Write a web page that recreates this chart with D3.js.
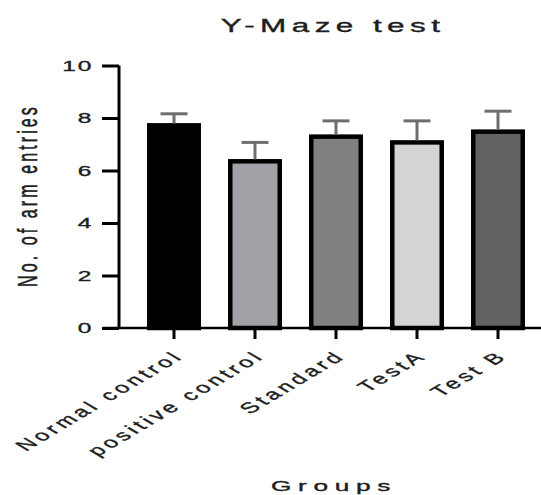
<!DOCTYPE html>
<html>
<head>
<meta charset="utf-8">
<script src="https://cdn.jsdelivr.net/npm/d3@7"></script>
<style>
body{margin:0;background:#fff;}
text{font-family:"Liberation Sans",Arial,sans-serif;fill:#1e1e1e;stroke:#1e1e1e;stroke-width:0.35px;}
</style>
</head>
<body>
<div id="chart"></div>
<script>
var groups=["Normal control","positive control","Standard","TestA","Test B"];
var means=[7.72,6.35,7.29,7.07,7.48];
var upper=[8.16,7.07,7.89,7.89,8.26];
var fills=["#000000","#a1a1a7","#808080","#d4d4d4","#626262"];
var yticks=[0,2,4,6,8,10];

var wide=541,high=495;
var sx=1.75; // the picture is stretched sideways, text too
var svg=d3.select("#chart").append("svg")
  .attr("width",wide).attr("height",high);

var x=d3.scaleBand()
  .domain(groups)
  .range([133.5,538.5])
  .paddingInner(0.34)
  .paddingOuter(0.17);
var y=d3.scaleLinear().domain([0,10]).range([328,65.5]);

// bars
svg.selectAll("rect.bar").data(groups).enter()
  .append("rect")
  .attr("class","bar")
  .attr("x",function(d){return x(d)+2;})
  .attr("width",x.bandwidth()-4)
  .attr("y",function(d,i){return y(means[i]);})
  .attr("height",function(d,i){return y(0)-y(means[i]);})
  .style("fill",function(d,i){return fills[i];})
  .style("stroke","#000")
  .style("stroke-width",4.5);

// error bars (upper only)
var err=svg.append("g").attr("class","err");
groups.forEach(function(g,i){
  var cx=x(g)+x.bandwidth()/2;
  err.append("line")
    .attr("x1",cx).attr("x2",cx)
    .attr("y1",y(means[i])-2).attr("y2",y(upper[i]))
    .style("stroke","#6e6e6e").style("stroke-width",3);
  err.append("line")
    .attr("x1",cx-13.5).attr("x2",cx+13.5)
    .attr("y1",y(upper[i])).attr("y2",y(upper[i]))
    .style("stroke","#6e6e6e").style("stroke-width",3);
});

// y axis
var yaxis=d3.axisLeft(y).tickValues(yticks).tickSize(17).tickFormat("");
var yg=svg.append("g").attr("transform","translate(119,0)").call(yaxis);
yg.select(".domain").attr("d","M0,"+y(10)+"V"+y(0)).style("stroke","#000").style("stroke-width",3);
yg.selectAll(".tick line").style("stroke","#000").style("stroke-width",3);
yticks.forEach(function(t){
  svg.append("text")
    .attr("transform","translate(93,"+(y(t)+5)+") scale("+sx+",1)")
    .attr("text-anchor","end")
    .style("font-size","14px")
    .style("letter-spacing","1px")
    .text(t);
});

// x axis
var xaxis=d3.axisBottom(x).tickSize(11).tickFormat("");
var xg=svg.append("g").attr("transform","translate(0,"+y(0)+")").call(xaxis);
xg.select(".domain").attr("d","M103,0H541").style("stroke","#000").style("stroke-width",2.5);
xg.selectAll(".tick line").style("stroke","#000").style("stroke-width",3);
groups.forEach(function(g){
  var cx=x(g)+x.bandwidth()/2;
  svg.append("text")
    .attr("transform","translate("+(cx+11)+",357) scale(1.68,1) rotate(-45)")
    .attr("text-anchor","end")
    .style("font-size","15px")
    .style("letter-spacing","2.6px")
    .text(g);
});

// title and axis names
svg.append("text")
  .attr("transform","translate(333,31.5) scale("+sx+",1)")
  .attr("text-anchor","middle")
  .style("font-size","18px")
  .style("letter-spacing","3.1px")
  .text("Y-Maze test");
svg.append("text")
  .attr("transform","translate(334,490.5) scale("+sx+",1)")
  .attr("text-anchor","middle")
  .style("font-size","15px")
  .style("letter-spacing","3.8px")
  .text("Groups");
svg.append("text")
  .attr("transform","translate(36.5,195.5) scale("+sx+",1) rotate(-90)")
  .attr("text-anchor","middle")
  .style("font-size","16px")
  .style("letter-spacing","3.1px")
  .text("No. of arm entries");
</script>
</body>
</html>
